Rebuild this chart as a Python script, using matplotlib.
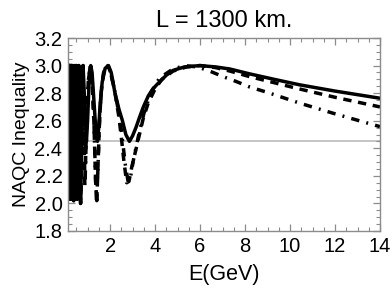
import numpy as np
import matplotlib
matplotlib.use("Agg")
import matplotlib.pyplot as plt
from matplotlib.ticker import MultipleLocator, FixedLocator

plt.rcParams['font.family'] = ['Liberation Sans', 'DejaVu Sans']
plt.rcParams['lines.scale_dashes'] = False

# fast oscillation region (E < 0.8 GeV), shared by the three curves
e_fast = [0.125, 0.132, 0.134, 0.139, 0.142, 0.147, 0.150, 0.156, 0.160, 0.166,
          0.170, 0.177, 0.182, 0.190, 0.196, 0.205, 0.212, 0.222, 0.231, 0.242,
          0.254, 0.267, 0.281, 0.297, 0.314, 0.334, 0.357, 0.383, 0.414, 0.448,
          0.49, 0.54, 0.61, 0.69]
naqc_fast = [2.9, 2.1, 3.0, 2.05, 3.0, 2.3, 3.0, 2.04, 3.0, 2.2,
             3.0, 2.03, 3.0, 2.1, 3.0, 2.05, 3.0, 2.03, 3.0, 2.15,
             3.0, 2.03, 3.0, 2.04, 3.0, 2.03, 3.0, 2.02, 3.0, 2.05,
             3.0, 2.03, 3.0, 2.0]

e_solid = [0.80, 0.84, 0.88, 0.95, 1.0, 1.06, 1.14, 1.2, 1.28, 1.36, 1.44, 1.5,
           1.56, 1.65, 1.78, 1.93, 2.05, 2.22, 2.4, 2.55, 2.7, 2.86, 3.0, 3.15,
           3.3, 3.48, 3.7, 3.9, 4.1, 4.5, 4.8, 5.3, 6.0, 6.7, 7.33, 8.2, 9.3,
           10.44, 12.0, 14.0]
naqc_solid = [3.0, 2.85, 2.65, 2.45, 2.6, 2.85, 3.0, 2.95, 2.75, 2.55, 2.45, 2.56,
              2.72, 2.88, 2.98, 3.0, 2.95, 2.8, 2.68, 2.6, 2.5, 2.45, 2.49, 2.55,
              2.62, 2.70, 2.78, 2.83, 2.865, 2.93, 2.965, 2.99, 3.0, 2.99, 2.975,
              2.94, 2.90, 2.86, 2.815, 2.763]

e_dash = [0.80, 0.83, 0.86, 0.88, 0.91, 0.96, 1.03, 1.12, 1.2, 1.28, 1.35, 1.40,
          1.45, 1.52, 1.6, 1.72, 1.9, 2.05, 2.22, 2.4, 2.52, 2.62, 2.74, 2.84,
          2.96, 3.19, 3.48, 3.7, 4.0, 4.3, 4.8, 5.4, 6.0, 6.7, 7.33, 8.2, 9.56,
          10.3, 12.0, 14.0]
naqc_dash = [3.0, 2.6, 2.25, 2.13, 2.3, 2.6, 2.88, 3.0, 2.9, 2.6, 2.2, 2.0,
             2.2, 2.55, 2.8, 2.96, 3.0, 2.94, 2.8, 2.62, 2.45, 2.3, 2.15, 2.16,
             2.26, 2.42, 2.62, 2.73, 2.83, 2.90, 2.96, 2.99, 3.0, 2.985, 2.96,
             2.92, 2.865, 2.835, 2.77, 2.70]

e_dashdot = [0.80, 0.84, 0.87, 0.89, 0.92, 0.97, 1.04, 1.13, 1.21, 1.29, 1.36,
             1.41, 1.46, 1.53, 1.62, 1.74, 1.9, 2.05, 2.25, 2.45, 2.58, 2.68,
             2.8, 2.9, 3.02, 3.25, 3.5, 3.8, 4.2, 4.84, 5.4, 5.9, 6.5, 7.1, 7.6,
             8.2, 9.0, 10.44, 12.0, 14.0]
naqc_dashdot = [3.0, 2.55, 2.2, 2.15, 2.35, 2.65, 2.9, 3.0, 2.88, 2.55, 2.15,
                2.02, 2.25, 2.6, 2.84, 2.97, 3.0, 2.93, 2.78, 2.6, 2.42, 2.28,
                2.16, 2.18, 2.3, 2.48, 2.65, 2.8, 2.91, 2.98, 2.998, 2.99, 2.955,
                2.915, 2.885, 2.845, 2.805, 2.727, 2.65, 2.557]

bound = np.sqrt(6)  # gray reference line

fig = plt.figure(figsize=(3.92, 2.94), dpi=100)
ax = fig.add_axes([68 / 392, 1 - 231 / 294, 312 / 392, 193 / 294])

ax.axhline(bound, color='#c0c0c0', lw=1.3, zorder=1)

lw = 2.5
ax.plot(e_fast + e_solid, naqc_fast + naqc_solid, color='black', lw=lw,
        solid_joinstyle='round')
ax.plot(e_fast + e_dash, naqc_fast + naqc_dash, color='black', lw=lw,
        dashes=(6, 4.8))
ax.plot(e_fast + e_dashdot, naqc_fast + naqc_dashdot, color='black', lw=lw,
        dashes=(6, 5.2, 1.4, 5.2))

ax.set_xlim(0.13, 14)
ax.set_ylim(1.8, 3.2)
ax.xaxis.set_major_locator(FixedLocator([2, 4, 6, 8, 10, 12, 14]))
ax.xaxis.set_minor_locator(MultipleLocator(0.5))
ax.yaxis.set_major_locator(MultipleLocator(0.2))
ax.yaxis.set_minor_locator(MultipleLocator(0.05))
ax.yaxis.set_major_formatter(plt.FormatStrFormatter('%.1f'))

for s in ax.spines.values():
    s.set_color('#8c8c8c')
    s.set_linewidth(1.0)
ax.tick_params(which='both', direction='in', top=True, right=True,
               color='#8c8c8c', labelsize=14.5, labelcolor='black')
ax.tick_params(which='major', length=5, width=0.9, pad=4)
ax.tick_params(which='minor', length=2.8, width=0.8)

ax.set_xlabel('E(GeV)', fontsize=15.5, labelpad=6)
ax.set_ylabel('NAQC Inequality', fontsize=14, labelpad=3)
ax.set_title('L = 1300 km.', fontsize=17, pad=8)

fig.savefig('out.png', dpi=100)
